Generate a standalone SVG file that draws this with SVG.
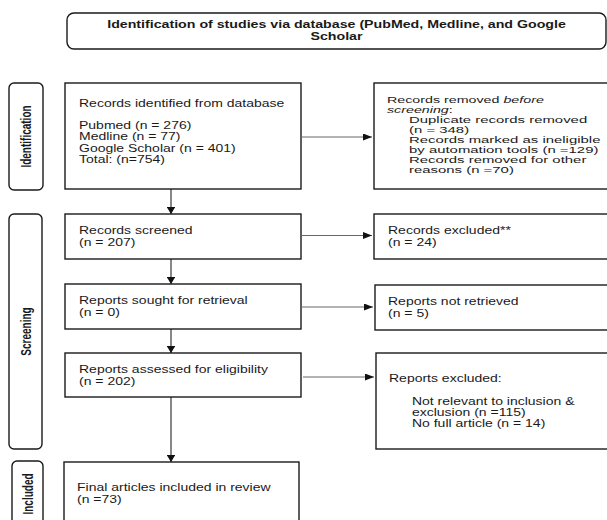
<svg xmlns="http://www.w3.org/2000/svg" width="607" height="520" viewBox="0 0 607 520">
<style>
.box{fill:#fff;stroke:#1a1a1a;stroke-width:1.4}
.lbl{fill:#fff;stroke:#1a1a1a;stroke-width:1.4}
.t{font-family:"Liberation Sans",Arial,sans-serif;font-size:10px;fill:#1a1a1a}
.b{font-family:"Liberation Sans",Arial,sans-serif;font-size:10px;font-weight:bold;fill:#1a1a1a}
.s{font-family:"Liberation Sans",Arial,sans-serif;font-size:9.5px;fill:#1a1a1a}
.vl{stroke:#111;stroke-width:1;fill:none}
.hl{stroke:#666;stroke-width:1;fill:none}
</style>
<defs>
<marker id="ah" markerUnits="userSpaceOnUse" markerWidth="9" markerHeight="7" refX="9" refY="3.5" orient="auto">
<path d="M0,0 L9,3.5 L0,7 z" fill="#111"/>
</marker>
<marker id="av" markerUnits="userSpaceOnUse" markerWidth="7" markerHeight="8.5" refX="7" refY="4.25" orient="auto">
<path d="M0,0 L7,4.25 L0,8.5 z" fill="#111"/>
</marker>
</defs>

<g id="title">
<rect class="box" x="67" y="13" width="539" height="36" rx="7"/>
<g transform="translate(336.5 0) scale(1.42 1)">
<text class="b" x="0" y="28.5" text-anchor="middle">Identification of studies via database (PubMed, Medline, and Google</text>
<text class="b" x="0" y="40.5" text-anchor="middle">Scholar</text>
</g>
</g>

<g id="label-identification">
<rect class="lbl" x="9" y="83" width="34" height="107" rx="5"/>
<text class="b" text-anchor="middle" y="3.5" transform="translate(26.5 136.5) scale(1.4 1) rotate(-90)">Identification</text>
</g>
<g id="label-screening">
<rect class="lbl" x="9" y="214" width="33" height="235" rx="5"/>
<text class="b" text-anchor="middle" y="3.5" transform="translate(26.5 331.5) scale(1.4 1) rotate(-90)">Screening</text>
</g>
<g id="label-included">
<rect class="lbl" x="12" y="461" width="31" height="80" rx="5"/>
<text class="b" text-anchor="middle" y="3.5" transform="translate(28 494) scale(1.4 1) rotate(-90)">Included</text>
</g>

<g id="records-identified">
<rect class="box" x="65" y="83" width="236" height="106"/>
<g transform="translate(79 0) scale(1.4 1)">
<text class="t" x="0" y="107.5">Records identified from database</text>
<text class="t" x="0" y="129">Pubmed (n = 276)</text>
<text class="t" x="0" y="140.3">Medline (n = 77)</text>
<text class="t" x="0" y="151.6">Google Scholar (n = 401)</text>
<text class="t" x="0" y="163">Total: (n=754)</text>
</g>
</g>

<g id="records-removed">
<rect class="box" x="374" y="83" width="240" height="106"/>
<g transform="translate(387 0) scale(1.5 1)">
<text class="s" x="0" y="103.3">Records removed <tspan font-style="italic">before</tspan></text>
<text class="s" x="0" y="113.3"><tspan font-style="italic">screening</tspan>:</text>
</g>
<g transform="translate(409 0) scale(1.57 1)">
<text class="s" x="0" y="123.3">Duplicate records removed</text>
<text class="s" x="0" y="133.3">(n = 348)</text>
<text class="s" x="0" y="143.3">Records marked as ineligible</text>
<text class="s" x="0" y="153.3">by automation tools (n =129)</text>
<text class="s" x="0" y="163.3">Records removed for other</text>
<text class="s" x="0" y="173.3">reasons (n =70)</text>
</g>
</g>

<g id="records-screened">
<rect class="box" x="65" y="214" width="236" height="45"/>
<g transform="translate(79 0) scale(1.4 1)">
<text class="t" x="0" y="234.5">Records screened</text>
<text class="t" x="0" y="246">(n = 207)</text>
</g>
</g>

<g id="records-excluded">
<rect class="box" x="374" y="214" width="240" height="45"/>
<g transform="translate(388 0) scale(1.4 1)">
<text class="t" x="0" y="234.5">Records excluded**</text>
<text class="t" x="0" y="246">(n = 24)</text>
</g>
</g>

<g id="reports-sought">
<rect class="box" x="65" y="284" width="236" height="45"/>
<g transform="translate(79 0) scale(1.4 1)">
<text class="t" x="0" y="304.5">Reports sought for retrieval</text>
<text class="t" x="0" y="316">(n = 0)</text>
</g>
</g>

<g id="reports-not-retrieved">
<rect class="box" x="375" y="285" width="240" height="45"/>
<g transform="translate(388 0) scale(1.4 1)">
<text class="t" x="0" y="305.5">Reports not retrieved</text>
<text class="t" x="0" y="317.5">(n = 5)</text>
</g>
</g>

<g id="reports-assessed">
<rect class="box" x="65" y="353" width="236" height="44"/>
<g transform="translate(79 0) scale(1.4 1)">
<text class="t" x="0" y="373.5">Reports assessed for eligibility</text>
<text class="t" x="0" y="385.5">(n = 202)</text>
</g>
</g>

<g id="reports-excluded">
<rect class="box" x="376" y="353" width="240" height="96"/>
<g transform="translate(389 0) scale(1.4 1)">
<text class="t" x="0" y="382.5">Reports excluded:</text>
<text class="t" x="16.4" y="405.5">Not relevant to inclusion &amp;</text>
<text class="t" x="16.4" y="416.5">exclusion (n =115)</text>
<text class="t" x="16.4" y="427.5">No full article (n = 14)</text>
</g>
</g>

<g id="final-included">
<rect class="box" x="64" y="462" width="235" height="80"/>
<g transform="translate(77 0) scale(1.4 1)">
<text class="t" x="0" y="491.5">Final articles included in review</text>
<text class="t" x="0" y="503">(n =73)</text>
</g>
</g>

<g id="connectors">
<path class="vl" d="M171,189 V214" marker-end="url(#av)"/>
<path class="vl" d="M171,259 V284" marker-end="url(#av)"/>
<path class="vl" d="M171,329 V353" marker-end="url(#av)"/>
<path class="vl" d="M171,397 V462" marker-end="url(#av)"/>
<path class="hl" d="M301,137 H372" marker-end="url(#ah)"/>
<path class="hl" d="M301,235.5 H372" marker-end="url(#ah)"/>
<path class="hl" d="M301,307 H373" marker-end="url(#ah)"/>
<path class="hl" d="M303,377 H374" marker-end="url(#ah)"/>
</g>
</svg>
